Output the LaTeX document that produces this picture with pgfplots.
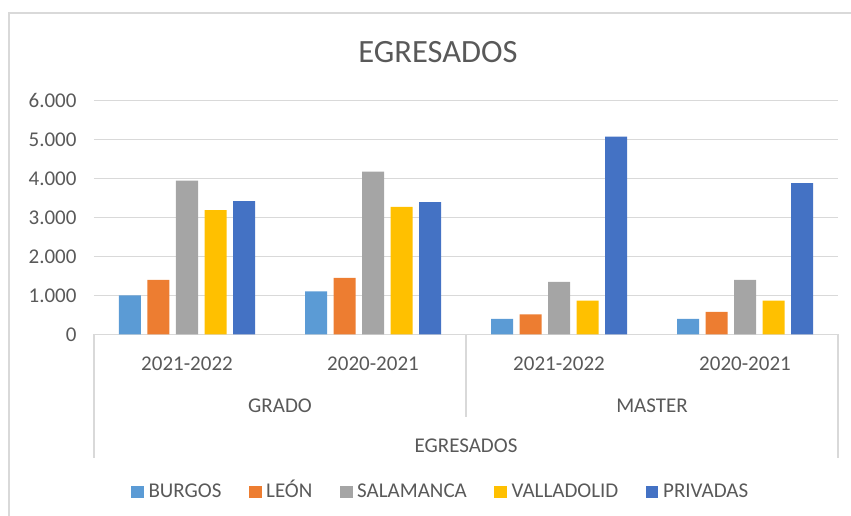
\documentclass[border=0pt]{standalone}
\usepackage{fontspec}
\setmainfont{Carlito}
\usepackage{pgfplots}
\pgfplotsset{compat=1.18}
\definecolor{txt}{HTML}{595959}
\definecolor{grd}{HTML}{D9D9D9}
\definecolor{cbur}{HTML}{5B9BD5}
\definecolor{cleo}{HTML}{ED7D31}
\definecolor{csal}{HTML}{A5A5A5}
\definecolor{cval}{HTML}{FFC000}
\definecolor{cpri}{HTML}{4472C4}
\newcommand{\tf}{\fontsize{21bp}{25bp}\selectfont}

\begin{document}
\begin{tikzpicture}
\begin{axis}[
    name=ax,
    scale only axis,
    width=744bp, height=233.6bp,
    xmin=-0.5, xmax=3.5, ymin=0, ymax=6000,
    ybar=6.5bp, bar width=22bp,
    clip=false,
    axis lines*=left,
    x axis line style={grd, line width=1.3bp, -},
    y axis line style={draw=none},
    major tick length=0pt,
    ymajorgrids, grid style={grd, line width=1.3bp},
    ytick={0,1000,2000,3000,4000,5000,6000},
    yticklabels={0,1.000,2.000,3.000,4.000,5.000,6.000},
    yticklabel style={xshift=-14bp},
    xtick={0,1,2,3},
    xticklabels={2021-2022,2020-2021,2021-2022,2020-2021},
    xticklabel style={anchor=base, yshift=-36bp},
    every tick label/.append style={font=\tf, text=txt},
    legend style={at={(axis description cs:0.466,-0.675)}, anchor=center,
        draw=none, fill=none, legend columns=5, font=\tf, text=txt,
        /tikz/every even column/.append style={column sep=25.5bp,
            text height=13.5bp, text depth=0bp}},
    legend image code/.code={\fill[#1] (0bp,-6.3bp) rectangle (12.6bp,6.3bp); \path (15.3bp,0bp);},
]
\addplot[fill=cbur, draw=none] coordinates {(0,1000) (1,1105) (2,394) (3,394)};
\addplot[fill=cleo, draw=none] coordinates {(0,1400) (1,1450) (2,515) (3,575)};
\addplot[fill=csal, draw=none] coordinates {(0,3950) (1,4180) (2,1345) (3,1395)};
\addplot[fill=cval, draw=none] coordinates {(0,3190) (1,3270) (2,865) (3,865)};
\addplot[fill=cpri, draw=none] coordinates {(0,3420) (1,3395) (2,5080) (3,3880)};
\legend{BURGOS,LEÓN,SALAMANCA,VALLADOLID,PRIVADAS}

% multi-level category axis
\draw[grd, line width=1.3bp] (axis cs:-0.5,0) -- ([yshift=-124bp]axis cs:-0.5,0);
\draw[grd, line width=1.3bp] (axis cs:1.5,0) -- ([yshift=-83bp]axis cs:1.5,0);
\draw[grd, line width=1.3bp] (axis cs:3.5,0) -- ([yshift=-124bp]axis cs:3.5,0);
\node[anchor=base, yshift=-77.7bp, font=\tf, text=txt] at (axis cs:0.5,0) {GRADO};
\node[anchor=base, yshift=-77.7bp, font=\tf, text=txt] at (axis cs:2.5,0) {MASTER};
\node[anchor=base, yshift=-118.4bp, font=\tf, text=txt] at (axis cs:1.5,0) {EGRESADOS};
\node[anchor=base, yshift=38bp, xshift=-28bp, text=txt,
      font=\fontsize{32.5bp}{38bp}\selectfont] at (axis cs:1.5,6000) {EGRESADOS};
\end{axis}
\draw[grd, line width=1.5bp] ([xshift=-85bp,yshift=-415.3bp]ax.north west)
    -- ([xshift=-85bp,yshift=87.7bp]ax.north west)
    -- ([xshift=757bp,yshift=87.7bp]ax.north west);
\pgfresetboundingbox
\path ([xshift=-94bp,yshift=-415.3bp]ax.north west) rectangle ([xshift=757bp,yshift=100.7bp]ax.north west);
\end{tikzpicture}
\end{document}
